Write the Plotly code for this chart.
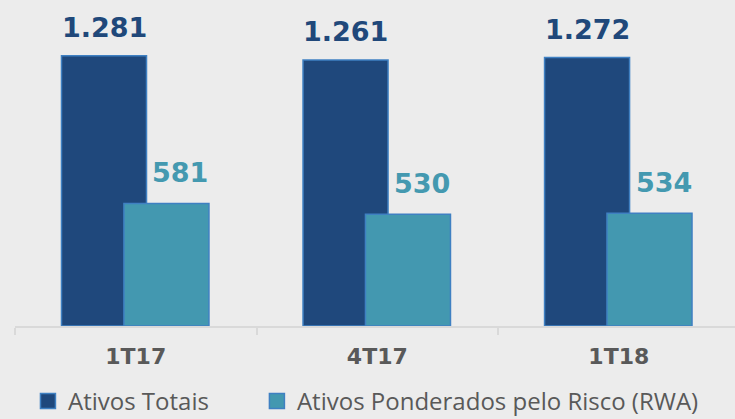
import plotly.graph_objects as go

categories = ["1T17", "4T17", "1T18"]
ativos_totais = [1281, 1261, 1272]
rwa = [581, 530, 534]
labels_totais = ["1.281", "1.261", "1.272"]
labels_rwa = ["581", "530", "534"]

DARK = "#1F487C"
TEAL = "#4398B0"
EDGE = "#3F80C2"
BG = "#ECECEC"
GRAY = "#595959"

BAR_W = 0.352
OFF_DARK = -0.3075
OFF_TEAL = -0.049

fig = go.Figure()
fig.add_trace(go.Bar(x=categories, y=ativos_totais, name="Ativos Totais",
                     marker=dict(color=DARK, line=dict(color=EDGE, width=1.5)),
                     width=BAR_W, offset=OFF_DARK, showlegend=False))
fig.add_trace(go.Bar(x=categories, y=rwa, name="Ativos Ponderados pelo Risco (RWA)",
                     marker=dict(color=TEAL, line=dict(color=EDGE, width=1.5)),
                     width=BAR_W, offset=OFF_TEAL, showlegend=False))

# legend entries
fig.add_trace(go.Scatter(x=[None], y=[None], mode="markers", name="Ativos Totais",
                         legend="legend",
                         marker=dict(symbol="square", size=15, color=DARK,
                                     line=dict(color=EDGE, width=1.5))))
fig.add_trace(go.Scatter(x=[None], y=[None], mode="markers",
                         name="Ativos Ponderados pelo Risco (RWA)", legend="legend2",
                         marker=dict(symbol="square", size=15, color=TEAL,
                                     line=dict(color=EDGE, width=1.5))))

for i, (v, t) in enumerate(zip(ativos_totais, labels_totais)):
    fig.add_annotation(x=i + OFF_DARK + BAR_W / 2, y=v, text=t, showarrow=False,
                       yanchor="bottom", yshift=11,
                       font=dict(family="DejaVu Sans", size=27, color="#20487A", weight="bold"))
for i, (v, t) in enumerate(zip(rwa, labels_rwa)):
    fig.add_annotation(x=i + OFF_TEAL + BAR_W / 2, y=v, text=t, showarrow=False,
                       yanchor="bottom", yshift=13, xshift=14,
                       font=dict(family="DejaVu Sans", size=27, color="#4499B0", weight="bold"))

legend_common = dict(orientation="h", yanchor="top", y=-0.162, xanchor="left",
                     font=dict(family="Open Sans", size=24, color=GRAY),
                     itemsizing="trace", bgcolor="rgba(0,0,0,0)")

fig.update_layout(
    width=735, height=419,
    margin=dict(l=15, r=0, t=0, b=93, autoexpand=False),
    paper_bgcolor=BG, plot_bgcolor=BG,
    barmode="overlay",
    legend=dict(x=0.018, **legend_common),
    legend2=dict(x=0.336, **legend_common),
    xaxis=dict(type="category", range=[-0.5, 2.481], tickson="boundaries",
               ticks="outside", ticklen=7, tickwidth=1.5, tickcolor="#D9D9D9",
               showline=True, linecolor="#D9D9D9", linewidth=1.5,
               showgrid=False, ticklabelstandoff=10,
               tickfont=dict(family="DejaVu Sans", size=22, color=GRAY, weight="bold")),
    yaxis=dict(visible=False, range=[0, 1545], showgrid=False, zeroline=False),
)

fig.write_html("out.html", config={"displayModeBar": False},
               post_script="document.body.style.margin='0';document.body.style.background='#ECECEC';")
